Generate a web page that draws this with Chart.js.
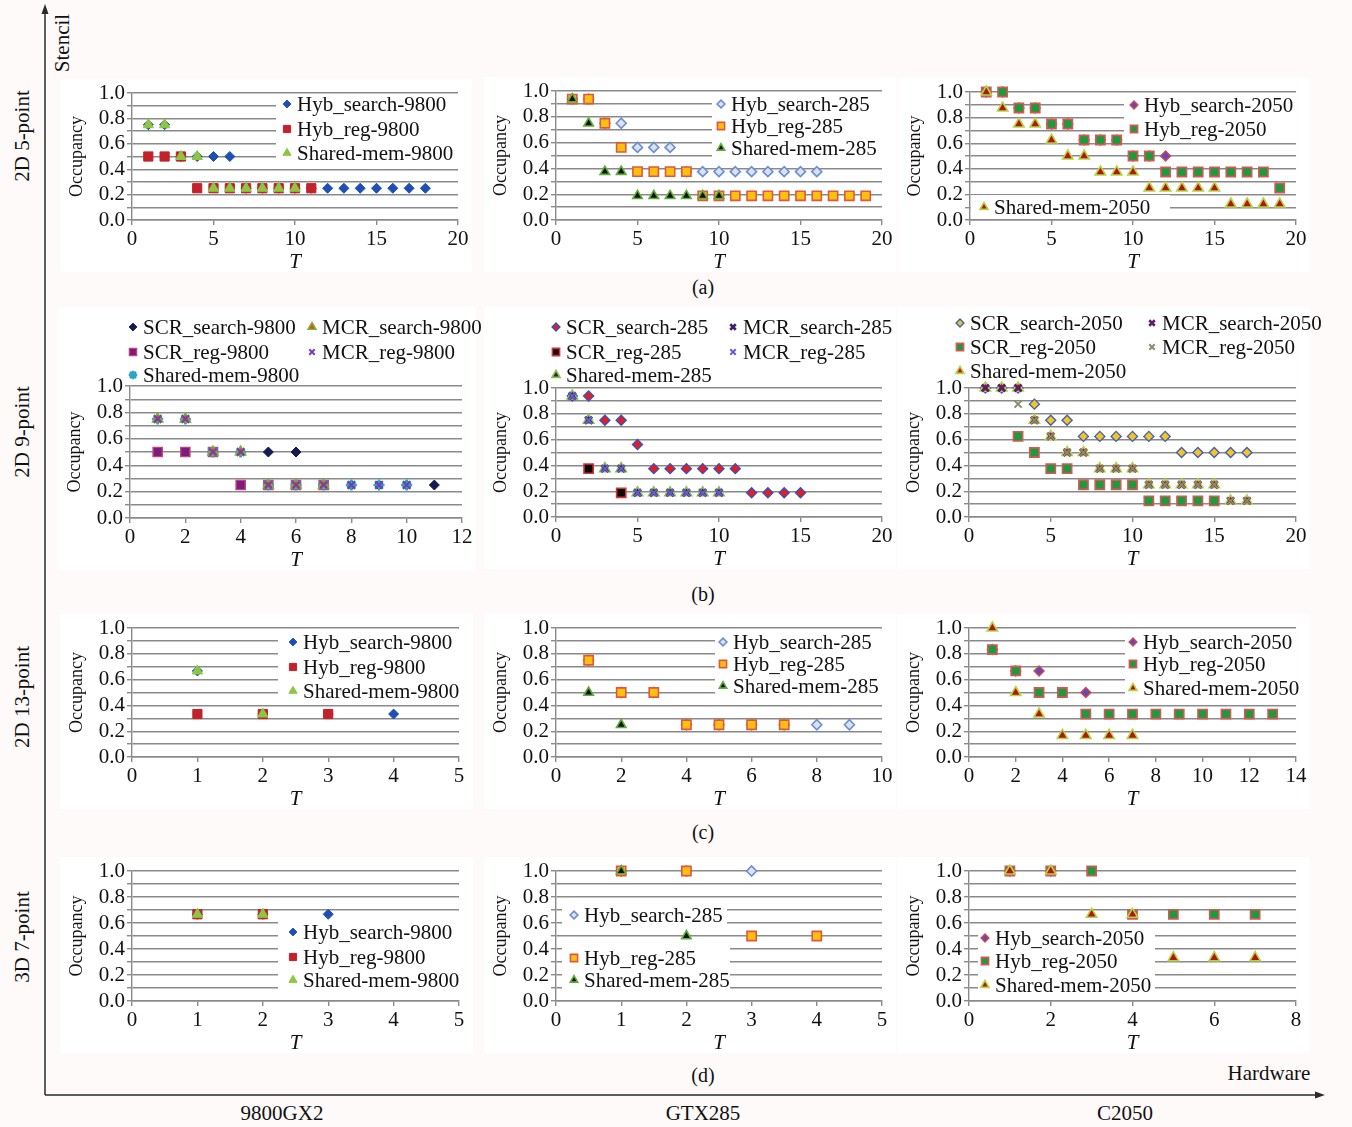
<!DOCTYPE html>
<html>
<head>
<meta charset="utf-8">
<title>Occupancy vs T</title>
<script src="https://cdn.jsdelivr.net/npm/chart.js@4.4.1/dist/chart.umd.min.js"></script>
<style>
  html, body { margin: 0; padding: 0; }
  body {
    width: 1352px; height: 1127px; position: relative; overflow: hidden;
    background: #fefafa;
    font-family: "Liberation Serif", "Times New Roman", serif;
    color: #111;
  }
  canvas { position: absolute; }
  svg { position: absolute; left: 0; top: 0; }
  .lbl { position: absolute; font-size: 21px; white-space: nowrap; line-height: 1; }
  .ctr { transform: translate(-50%, -50%); }
  .rot { transform: translate(-50%, -50%) rotate(-90deg); }
</style>
</head>
<body>
<svg width="1352" height="1127">
  <line x1="45" y1="12" x2="45" y2="1095" stroke="#2a2a2a" stroke-width="1.5"/>
  <polygon points="45,4 41.5,14 48.5,14" fill="#2a2a2a"/>
  <line x1="45" y1="1095" x2="1316" y2="1095" stroke="#2a2a2a" stroke-width="1.5"/>
  <polygon points="1325,1095 1315,1091.5 1315,1098.5" fill="#2a2a2a"/>
</svg>
<div class="lbl rot" style="left:62px;top:43px;">Stencil</div>
<div class="lbl rot" style="left:22px;top:136px;">2D 5-point</div>
<div class="lbl rot" style="left:22px;top:432px;">2D 9-point</div>
<div class="lbl rot" style="left:22px;top:697px;">2D 13-point</div>
<div class="lbl rot" style="left:22px;top:937px;">3D 7-point</div>
<div class="lbl ctr" style="left:703px;top:287px;font-size:20px;">(a)</div>
<div class="lbl ctr" style="left:703px;top:594px;font-size:20px;">(b)</div>
<div class="lbl ctr" style="left:703px;top:832px;font-size:20px;">(c)</div>
<div class="lbl ctr" style="left:703px;top:1075px;font-size:20px;">(d)</div>
<div class="lbl ctr" style="left:1269px;top:1073px;">Hardware</div>
<div class="lbl ctr" style="left:282px;top:1113px;">9800GX2</div>
<div class="lbl ctr" style="left:703px;top:1113px;">GTX285</div>
<div class="lbl ctr" style="left:1125px;top:1113px;">C2050</div>

<script>
// Occupancy per tile size T; index i holds the value for T = i + 1 (null = not measured).

// (a) 2D 5-point
const a9800_search = [0.75,0.75,0.5,0.5,0.5,0.5,0.25,0.25,0.25,0.25,0.25,0.25,0.25,0.25,0.25,0.25,0.25,0.25];
const a9800_reg    = [0.5,0.5,0.5,0.25,0.25,0.25,0.25,0.25,0.25,0.25,0.25];
const a9800_shared = [0.75,0.75,0.5,0.5,0.25,0.25,0.25,0.25,0.25,0.25];

const a285_search = [0.9375,0.9375,0.75,0.75,0.5625,0.5625,0.5625,0.375,0.375,0.375,0.375,0.375,0.375,0.375,0.375,0.375];
const a285_reg    = [0.9375,0.9375,0.75,0.5625,0.375,0.375,0.375,0.375,0.1875,0.1875,0.1875,0.1875,0.1875,0.1875,0.1875,0.1875,0.1875,0.1875,0.1875];
const a285_shared = [0.9375,0.75,0.375,0.375,0.1875,0.1875,0.1875,0.1875,0.1875,0.1875];

const a2050_search = [1,1,0.875,0.875,0.75,0.75,0.625,0.625,0.625,0.5,0.5,0.5];
const a2050_reg    = [1,1,0.875,0.875,0.75,0.75,0.625,0.625,0.625,0.5,0.5,0.375,0.375,0.375,0.375,0.375,0.375,0.375,0.25];
const a2050_shared = [1,0.875,0.75,0.75,0.625,0.5,0.5,0.375,0.375,0.375,0.25,0.25,0.25,0.25,0.25,0.125,0.125,0.125,0.125];

// (b) 2D 9-point
const b9800_scrSearch = [0.75,0.75,0.5,0.5,0.5,0.5,0.25,0.25,0.25,0.25,0.25];
const b9800_scrReg    = [0.5,0.5,0.5,0.25,0.25,0.25,0.25];
const b9800_shared    = [0.75,0.75,0.5,0.5,0.25,0.25,0.25,0.25,0.25,0.25];
const b9800_mcrSearch = [0.75,0.75,0.5,0.5,0.25,0.25,0.25];
const b9800_mcrReg    = [0.75,0.75,0.5,0.5,0.25,0.25,0.25,0.25,0.25,0.25];

const b285_scrSearch = [0.9375,0.9375,0.75,0.75,0.5625,0.375,0.375,0.375,0.375,0.375,0.375,0.1875,0.1875,0.1875,0.1875];
const b285_scrReg    = [null,0.375,null,0.1875];
const b285_shared    = [0.9375,0.75,0.375,0.375,0.1875,0.1875,0.1875,0.1875,0.1875,0.1875];
const b285_mcrSearch = [0.9375,0.75,0.375,0.375,0.1875,0.1875,0.1875,0.1875,0.1875,0.1875];
const b285_mcrReg    = [0.9375,0.75,0.375,0.375,0.1875,0.1875,0.1875,0.1875,0.1875,0.1875];

const b2050_scrSearch = [1,1,1,0.875,0.75,0.75,0.625,0.625,0.625,0.625,0.625,0.625,0.5,0.5,0.5,0.5,0.5];
const b2050_scrReg    = [null,null,0.625,0.5,0.375,0.375,0.25,0.25,0.25,0.25,0.125,0.125,0.125,0.125,0.125];
const b2050_shared    = [1,1,1,0.75,0.625,0.5,0.5,0.375,0.375,0.375,0.25,0.25,0.25,0.25,0.25,0.125,0.125];
const b2050_mcrSearch = [1,1,1,0.75,0.625,0.5,0.5,0.375,0.375,0.375,0.25,0.25,0.25,0.25,0.25,0.125,0.125];
const b2050_mcrReg    = [null,null,0.875,0.75,0.625,0.5,0.5,0.375,0.375,0.375,0.25,0.25,0.25,0.25,0.25,0.125,0.125];

// (c) 2D 13-point
const c9800_search = [0.667,0.333,0.333,0.333];
const c9800_reg    = [0.333,0.333,0.333];
const c9800_shared = [0.667,0.333];

const c285_search = [0.75,0.5,0.5,0.25,0.25,0.25,0.25,0.25,0.25];
const c285_reg    = [0.75,0.5,0.5,0.25,0.25,0.25,0.25];
const c285_shared = [0.5,0.25];

const c2050_search = [0.833,0.667,0.667,0.5,0.5];
const c2050_reg    = [0.833,0.667,0.5,0.5,0.333,0.333,0.333,0.333,0.333,0.333,0.333,0.333,0.333];
const c2050_shared = [1,0.5,0.333,0.167,0.167,0.167,0.167];

// (d) 3D 7-point
const d9800_search = [0.667,0.667,0.667];
const d9800_reg    = [0.667,0.667];
const d9800_shared = [0.667,0.667];

const d285_search = [1,1,1];
const d285_reg    = [1,1,0.5,0.5];
const d285_shared = [1,0.5];

const d2050_search = [1,1];
const d2050_reg    = [1,1,1,0.667,0.667,0.667,0.667];
const d2050_shared = [1,1,0.667,0.667,0.333,0.333,0.333];

// Axis ranges of T per panel
const xMaxA = [20, 20, 20], xStepA = [5, 5, 5];
const xMaxB = [12, 20, 20], xStepB = [2, 5, 5];
const xMaxC = [5, 10, 14],  xStepC = [1, 2, 2];
const xMaxD = [5, 5, 8],    xStepD = [1, 1, 2];

// ---------------------------------------------------------------- styles
const FONT = '"Liberation Serif", "Times New Roman", serif';
const GRID = '#8a8a8a';

function mk(pointStyle, pointRadius, bg, border, bw) {
  return { pointStyle, pointRadius, pointBackgroundColor: bg, pointBorderColor: border, pointBorderWidth: bw };
}
const STY = {
  s9800: mk('rectRot', 5, '#1f4fb4', '#1f4fb4', 1),
  r9800: mk('rect', 6.5, '#c3212b', '#c3212b', 1),
  m9800: mk('triangle', 6, '#8dc641', '#8dc641', 1),
  s285:  mk('rectRot', 5, '#d9e3f4', '#6d8ed3', 1.6),
  r285:  mk('rect', 6.5, '#ffc10e', '#e0573c', 1.6),
  m285:  mk('triangle', 5.5, '#111111', '#5fae3c', 1.6),
  s2050: mk('rectRot', 5, '#6248b8', '#d44848', 1.4),
  r2050: mk('rect', 6.5, '#1d9a3b', '#d95656', 1.6),
  m2050: mk('triangle', 6, '#b5140f', '#b4d444', 1.6),
  scrS9800: mk('rectRot', 5, '#151b4f', '#151b4f', 1),
  scrR9800: mk('rect', 6.5, '#7b1d7e', '#c2447a', 1.4),
  shm9800:  mk('star', 5.5, '#2da3c9', '#2da3c9', 2.4),
  mcrS9800: mk('triangle', 6, '#e0521c', '#7ab534', 1.4),
  mcrR9800: mk('crossRot', 5, '#7a3bb2', '#7a3bb2', 2),
  scrS285:  mk('rectRot', 5, '#e81c1c', '#3352c4', 1.4),
  scrR285:  mk('rect', 6.5, '#0a0a0a', '#d33333', 1.6),
  shm285:   mk('triangle', 6, '#3b1c63', '#84c443', 1.6),
  mcrS285:  mk('crossRot', 5, '#3d1e73', '#3d1e73', 2.6),
  mcrR285:  mk('crossRot', 5, '#6a5bd2', '#6a5bd2', 2),
  scrS2050: mk('rectRot', 5, '#f6c51b', '#3e5ec2', 1.4),
  scrR2050: mk('rect', 6.5, '#1d9a3b', '#d95656', 1.6),
  shm2050:  mk('triangle', 6, '#c8180f', '#b4d444', 1.6),
  mcrS2050: mk('crossRot', 5, '#5c1c6c', '#5c1c6c', 2.6),
  mcrR2050: mk('crossRot', 5, '#8c8a6c', '#8c8a6c', 2)
};

// ---------------------------------------------------------------- panels
// plot: chart area [left, top, right, bottom] on the page
// legend: boxes (white patches, page coords) and items [dataset index, marker x, y]
const panels = [
  { plot: [132, 93, 458, 220], xMax: xMaxA[0], xStep: xStepA[0],
    series: [['Hyb_search-9800', a9800_search, STY.s9800], ['Hyb_reg-9800', a9800_reg, STY.r9800], ['Shared-mem-9800', a9800_shared, STY.m9800]],
    boxes: [[276, 95, 458, 164]], items: [[0, 287, 104], [1, 287, 129], [2, 287, 153]] },
  { plot: [556, 91, 882, 220], xMax: xMaxA[1], xStep: xStepA[1],
    series: [['Hyb_search-285', a285_search, STY.s285], ['Hyb_reg-285', a285_reg, STY.r285], ['Shared-mem-285', a285_shared, STY.m285]],
    boxes: [[712, 93, 882, 160]], items: [[0, 721, 104], [1, 721, 126], [2, 721, 148]] },
  { plot: [970, 92, 1296, 220], xMax: xMaxA[2], xStep: xStepA[2],
    series: [['Hyb_search-2050', a2050_search, STY.s2050], ['Hyb_reg-2050', a2050_reg, STY.r2050], ['Shared-mem-2050', a2050_shared, STY.m2050]],
    boxes: [[1124, 94, 1296, 140], [971, 195, 1170, 219]], items: [[0, 1134, 105], [1, 1134, 129], [2, 984, 207]] },

  { plot: [130, 386, 462, 518], top: 305, xMax: xMaxB[0], xStep: xStepB[0],
    series: [['SCR_search-9800', b9800_scrSearch, STY.scrS9800], ['SCR_reg-9800', b9800_scrReg, STY.scrR9800], ['Shared-mem-9800', b9800_shared, STY.shm9800],
             ['MCR_search-9800', b9800_mcrSearch, STY.mcrS9800], ['MCR_reg-9800', b9800_mcrReg, STY.mcrR9800]],
    boxes: [], items: [[0, 133, 327], [3, 312, 327], [1, 133, 352], [4, 312, 352], [2, 133, 375]] },
  { plot: [556, 388, 882, 517], top: 305, xMax: xMaxB[1], xStep: xStepB[1],
    series: [['SCR_search-285', b285_scrSearch, STY.scrS285], ['SCR_reg-285', b285_scrReg, STY.scrR285], ['Shared-mem-285', b285_shared, STY.shm285],
             ['MCR_search-285', b285_mcrSearch, STY.mcrS285], ['MCR_reg-285', b285_mcrReg, STY.mcrR285]],
    boxes: [], items: [[0, 556, 327], [3, 733, 327], [1, 556, 352], [4, 733, 352], [2, 556, 375]] },
  { plot: [969, 388, 1296, 517], top: 305, xMax: xMaxB[2], xStep: xStepB[2],
    series: [['SCR_search-2050', b2050_scrSearch, STY.scrS2050], ['SCR_reg-2050', b2050_scrReg, STY.scrR2050], ['Shared-mem-2050', b2050_shared, STY.shm2050],
             ['MCR_search-2050', b2050_mcrSearch, STY.mcrS2050], ['MCR_reg-2050', b2050_mcrReg, STY.mcrR2050]],
    boxes: [], items: [[0, 960, 323], [3, 1152, 323], [1, 960, 347], [4, 1152, 347], [2, 960, 371]] },

  { plot: [132, 628, 459, 757], xMax: xMaxC[0], xStep: xStepC[0],
    series: [['Hyb_search-9800', c9800_search, STY.s9800], ['Hyb_reg-9800', c9800_reg, STY.r9800], ['Shared-mem-9800', c9800_shared, STY.m9800]],
    boxes: [[278, 631, 459, 701]], items: [[0, 293, 642], [1, 293, 667], [2, 293, 691]] },
  { plot: [556, 628, 882, 757], xMax: xMaxC[1], xStep: xStepC[1],
    series: [['Hyb_search-285', c285_search, STY.s285], ['Hyb_reg-285', c285_reg, STY.r285], ['Shared-mem-285', c285_shared, STY.m285]],
    boxes: [[715, 631, 882, 697]], items: [[0, 723, 642], [1, 723, 664], [2, 723, 686]] },
  { plot: [969, 628, 1296, 757], xMax: xMaxC[2], xStep: xStepC[2],
    series: [['Hyb_search-2050', c2050_search, STY.s2050], ['Hyb_reg-2050', c2050_reg, STY.r2050], ['Shared-mem-2050', c2050_shared, STY.m2050]],
    boxes: [[1125, 631, 1296, 699]], items: [[0, 1133, 642], [1, 1133, 664], [2, 1133, 688]] },

  { plot: [132, 871, 459, 1001], xMax: xMaxD[0], xStep: xStepD[0],
    series: [['Hyb_search-9800', d9800_search, STY.s9800], ['Hyb_reg-9800', d9800_reg, STY.r9800], ['Shared-mem-9800', d9800_shared, STY.m9800]],
    boxes: [[278, 920, 459, 991]], items: [[0, 293, 932], [1, 293, 957], [2, 293, 980]] },
  { plot: [556, 871, 882, 1001], xMax: xMaxD[1], xStep: xStepD[1],
    series: [['Hyb_search-285', d285_search, STY.s285], ['Hyb_reg-285', d285_reg, STY.r285], ['Shared-mem-285', d285_shared, STY.m285]],
    boxes: [[562, 905, 727, 926], [562, 945, 730, 991]], items: [[0, 574, 915], [1, 574, 958], [2, 574, 980]] },
  { plot: [969, 871, 1296, 1001], xMax: xMaxD[2], xStep: xStepD[2],
    series: [['Hyb_search-2050', d2050_search, STY.s2050], ['Hyb_reg-2050', d2050_reg, STY.r2050], ['Shared-mem-2050', d2050_shared, STY.m2050]],
    boxes: [[978, 928, 1155, 994]], items: [[0, 985, 938], [1, 985, 961], [2, 985, 985]] }
];

// White panel backdrop plus the in-plot legends
const panelDecor = {
  id: 'panelDecor',
  beforeDraw(chart, args, opts) {
    const { ctx, chartArea: a } = chart;
    const top = opts.bgTop != null ? opts.bgTop : a.top - 14;
    ctx.save();
    ctx.fillStyle = '#ffffff';
    ctx.fillRect(a.left - 72, top, a.right - a.left + 86, a.bottom + 52 - top);
    ctx.restore();
  },
  afterDraw(chart, args, opts) {
    const ctx = chart.ctx;
    const ox = opts.ox, oy = opts.oy;
    ctx.save();
    ctx.fillStyle = '#ffffff';
    (opts.boxes || []).forEach(b => ctx.fillRect(b[0] - ox, b[1] - oy, b[2] - b[0], b[3] - b[1]));
    ctx.font = '21px ' + FONT;
    ctx.textBaseline = 'middle';
    ctx.textAlign = 'left';
    (opts.items || []).forEach(it => {
      const ds = chart.data.datasets[it[0]];
      const x = it[1] - ox, y = it[2] - oy;
      ctx.fillStyle = ds.pointBackgroundColor;
      ctx.strokeStyle = ds.pointBorderColor;
      ctx.lineWidth = ds.pointBorderWidth;
      Chart.helpers.drawPoint(ctx, {
        pointStyle: ds.pointStyle, rotation: 0,
        radius: ds.pointRadius * 0.78, borderWidth: ds.pointBorderWidth
      }, x, y);
      ctx.fillStyle = '#111';
      ctx.fillText(ds.label, x + 10, y + 1);
    });
    ctx.restore();
  }
};

const Y_AXIS_W = 66, X_AXIS_H = 55;

function mount(p) {
  const [L, T, R, B] = p.plot;
  const cx = L - 80;
  const cy = p.top != null ? p.top : T - 40;
  const cw = R + 40 - cx;
  const ch = B + 62 - cy;
  const cv = document.createElement('canvas');
  cv.width = cw; cv.height = ch;
  cv.style.left = cx + 'px'; cv.style.top = cy + 'px';
  cv.style.width = cw + 'px'; cv.style.height = ch + 'px';
  document.body.appendChild(cv);

  const n = p.series.length;
  const datasets = p.series.map(([label, vals, st], i) => Object.assign({
    label,
    data: vals.map((v, k) => v == null ? null : { x: k + 1, y: v }).filter(Boolean),
    showLine: false,
    clip: false,
    order: n - i
  }, st));

  new Chart(cv, {
    type: 'scatter',
    data: { datasets },
    options: {
      responsive: false,
      devicePixelRatio: 1,
      animation: false,
      events: [],
      layout: { padding: { left: 80 - Y_AXIS_W, top: T - cy, right: 40, bottom: 62 - X_AXIS_H } },
      plugins: {
        legend: { display: false },
        tooltip: { enabled: false },
        panelDecor: { ox: cx, oy: cy, boxes: p.boxes, items: p.items, bgTop: p.top != null ? 2 : null }
      },
      scales: {
        x: {
          type: 'linear', min: 0, max: p.xMax,
          afterFit: s => { s.height = X_AXIS_H; },
          ticks: { stepSize: p.xStep, autoSkip: false, maxRotation: 0, padding: 2, color: '#111',
                   font: { family: FONT, size: 21 } },
          grid: { drawOnChartArea: false, drawTicks: true, tickLength: 5, color: GRID, lineWidth: 1.4 },
          border: { display: true, color: GRID, width: 1.4 },
          title: { display: true, text: 'T', color: '#111', padding: 0,
                   font: { family: FONT, size: 21, style: 'italic' } }
        },
        y: {
          type: 'linear', min: 0, max: 1,
          afterFit: s => { s.width = Y_AXIS_W; },
          ticks: { stepSize: 0.1, autoSkip: false, padding: 2, color: '#111',
                   font: { family: FONT, size: 21 },
                   callback: v => (Math.round(v * 10) % 2 === 0 ? v.toFixed(1) : '') },
          grid: { drawOnChartArea: true, drawTicks: true, tickLength: 5, color: GRID, lineWidth: 1.4 },
          border: { display: true, color: GRID, width: 1.4 },
          title: { display: true, text: 'Occupancy', color: '#111', padding: 0,
                   font: { family: FONT, size: 18 } }
        }
      }
    },
    plugins: [panelDecor]
  });
}

panels.forEach(mount);
</script>
</body>
</html>
